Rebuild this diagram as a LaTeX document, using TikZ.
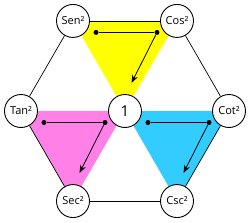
\documentclass[tikz,border=0pt]{standalone}
\usepackage{fontspec}
\setmainfont{Open Sans}
\usetikzlibrary{arrows.meta,calc,backgrounds}
\definecolor{topc}{RGB}{255,255,0}
\definecolor{leftc}{RGB}{255,128,230}
\definecolor{rightc}{RGB}{51,204,255}

\begin{document}
\begin{tikzpicture}[x=1pt,y=1pt,
  fn/.style={draw,circle,fill=white,line width=0.9pt,minimum size=33pt,inner sep=0pt,font=\fontsize{11}{13}\selectfont},
  dot/.style={circle,fill=black,inner sep=0pt,minimum size=5pt}]
  \useasboundingbox (-125,-112) rectangle (125,111);
  \node[fn,font=\fontsize{15}{17}\selectfont] (one) at (0,0) {1};
  \node[fn] (sen) at (120:104) {Sen²};
  \node[fn] (cos) at (60:104) {Cos²};
  \node[fn] (cot) at (0:104) {Cot²};
  \node[fn] (csc) at (-60:104) {Csc²};
  \node[fn] (sec) at (-120:104) {Sec²};
  \node[fn] (tan) at (180:104) {Tan²};
  % coloured triangles under the circles
  \begin{scope}[on background layer]
    \fill[topc] (sen.center) -- (cos.center) -- (one.center) -- cycle;
    \fill[leftc] (tan.center) -- (one.center) -- (sec.center) -- cycle;
    \fill[rightc] (one.center) -- (cot.center) -- (csc.center) -- cycle;
  \end{scope}
  % hexagon
  \foreach \a/\b in {sen/cos,cos/cot,cot/csc,csc/sec,sec/tan,tan/sen}
    \draw[line width=0.7pt] (\a) -- (\b);
  % reading arrows
  \foreach \v in {sen,tan,one}{
    \node[dot] (\v-p) at ($(\v)+(23,-11.5)$) {};
    \node[dot] (\v-q) at ($(\v)+(84,-11.5)$) {};
    \coordinate (\v-e) at ($(\v)+(58.5,-62)$);
    \draw[line width=0.8pt] (\v-p) -- (\v-q);
    \draw[line width=0.8pt,-{Stealth[length=8pt,width=6pt]}] (\v-q) -- (\v-e);
  }
\end{tikzpicture}
\end{document}
